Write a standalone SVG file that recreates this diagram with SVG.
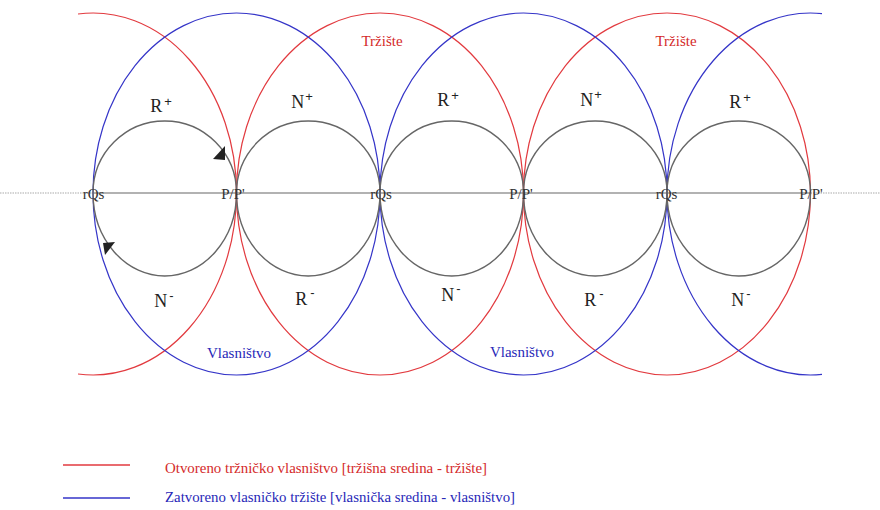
<svg xmlns="http://www.w3.org/2000/svg" width="880" height="510" viewBox="0 0 880 510">
<style>
.red{fill:none;stroke:#e23a3f;stroke-width:1.2}
.blue{fill:none;stroke:#3535c8;stroke-width:1.2}
.gray{fill:none;stroke:#666;stroke-width:1.4}
.lbl{font-family:"Liberation Serif",serif;font-size:18px;fill:#222;text-anchor:middle}
.sup{font-family:"Liberation Sans",sans-serif;font-size:13px}
.pt{font-family:"Liberation Serif",serif;font-size:15px;fill:#333;text-anchor:middle}
.rt{font-family:"Liberation Serif",serif;font-size:15px;fill:#d42a2a;text-anchor:middle}
.bt{font-family:"Liberation Serif",serif;font-size:15px;fill:#2828b8;text-anchor:middle}
.leg{font-family:"Liberation Serif",serif;font-size:15px}
</style>
<rect width="880" height="510" fill="#fff"/>
<g id="axis">
<line x1="0" y1="193" x2="93" y2="193" stroke="#aaa" stroke-width="1.2" stroke-dasharray="1.5,1"/>
<line x1="93" y1="193" x2="810.5" y2="193" stroke="#999" stroke-width="1.6"/>
<line x1="810.5" y1="193" x2="880" y2="193" stroke="#aaa" stroke-width="1.2" stroke-dasharray="1.5,1"/>
</g>
<g id="market-red">
<path class="red" d="M78 14 A143.5 180 0 0 1 236.5 193 A143.5 182 0 0 1 78 374"/>
<path class="red" d="M236.5 193 A143.5 180 0 0 1 523.5 193 A143.5 182 0 0 1 236.5 193"/>
<path class="red" d="M523.5 193 A143.5 180 0 0 1 810.5 193 A143.5 182 0 0 1 523.5 193"/>
</g>
<g id="ownership-blue">
<path class="blue" d="M93 193 A143.5 180 0 0 1 380 193 A143.5 182 0 0 1 93 193"/>
<path class="blue" d="M380 193 A143.5 180 0 0 1 667 193 A143.5 182 0 0 1 380 193"/>
<path class="blue" d="M822 13.6 A143.5 180 0 0 0 667 193 A143.5 182 0 0 0 822 374.4"/>
</g>
<g id="connectors">
<path class="gray" d="M93 193 A71.75 72 0 0 1 236.5 193 A71.75 83 0 0 1 93 193"/>
<path class="gray" d="M236.5 193 A71.75 72 0 0 1 380 193 A71.75 83 0 0 1 236.5 193"/>
<path class="gray" d="M380 193 A71.75 72 0 0 1 523.5 193 A71.75 83 0 0 1 380 193"/>
<path class="gray" d="M523.5 193 A71.75 72 0 0 1 667 193 A71.75 83 0 0 1 523.5 193"/>
<path class="gray" d="M667 193 A71.75 72 0 0 1 810.5 193 A71.75 83 0 0 1 667 193"/>
<polygon points="213,159 225,146 225,160" fill="#222"/>
<polygon points="103,243 115,242 105,255" fill="#222"/>
</g>
<g id="node-rQs-1"><text class="pt" x="93.5" y="199">rQs</text></g>
<g id="node-PP-1"><text class="pt" x="233" y="199">P/P'</text></g>
<g id="node-rQs-2"><text class="pt" x="381" y="199">rQs</text></g>
<g id="node-PP-2"><text class="pt" x="521" y="199">P/P'</text></g>
<g id="node-rQs-3"><text class="pt" x="666.5" y="199">rQs</text></g>
<g id="node-PP-3"><text class="pt" x="811" y="199">P/P'</text></g>
<g id="labels">
<text class="lbl" x="161" y="112">R<tspan class="sup" dx="2" dy="-6">+</tspan></text>
<text class="lbl" x="302" y="108">N<tspan class="sup" dx="1" dy="-7">+</tspan></text>
<text class="lbl" x="448" y="106">R<tspan class="sup" dx="2" dy="-6">+</tspan></text>
<text class="lbl" x="591" y="106">N<tspan class="sup" dx="1" dy="-7">+</tspan></text>
<text class="lbl" x="740" y="108">R<tspan class="sup" dx="2" dy="-6">+</tspan></text>
<text class="lbl" x="164" y="307">N<tspan class="sup" dx="2" dy="-7">-</tspan></text>
<text class="lbl" x="305" y="305">R<tspan class="sup" dx="3" dy="-8">-</tspan></text>
<text class="lbl" x="451" y="301">N<tspan class="sup" dx="2" dy="-8">-</tspan></text>
<text class="lbl" x="594" y="306">R<tspan class="sup" dx="3" dy="-8">-</tspan></text>
<text class="lbl" x="741" y="306">N<tspan class="sup" dx="2" dy="-8">-</tspan></text>
<text class="rt" x="382" y="46">Tržište</text>
<text class="rt" x="676" y="46">Tržište</text>
<text class="bt" x="239" y="358">Vlasništvo</text>
<text class="bt" x="522" y="357">Vlasništvo</text>
</g>
<g id="legend">
<line x1="63" y1="465" x2="130" y2="465" stroke="#e23a3f" stroke-width="1.3"/>
<text class="leg" x="165" y="473" fill="#d42a2a" textLength="322" lengthAdjust="spacingAndGlyphs">Otvoreno tržničko vlasništvo [tržišna sredina - tržište]</text>
<line x1="63" y1="498" x2="130" y2="498" stroke="#3535c8" stroke-width="1.3"/>
<text class="leg" x="165" y="502" fill="#2828b8" textLength="350" lengthAdjust="spacingAndGlyphs">Zatvoreno vlasničko tržište [vlasnička sredina - vlasništvo]</text>
</g>
</svg>
